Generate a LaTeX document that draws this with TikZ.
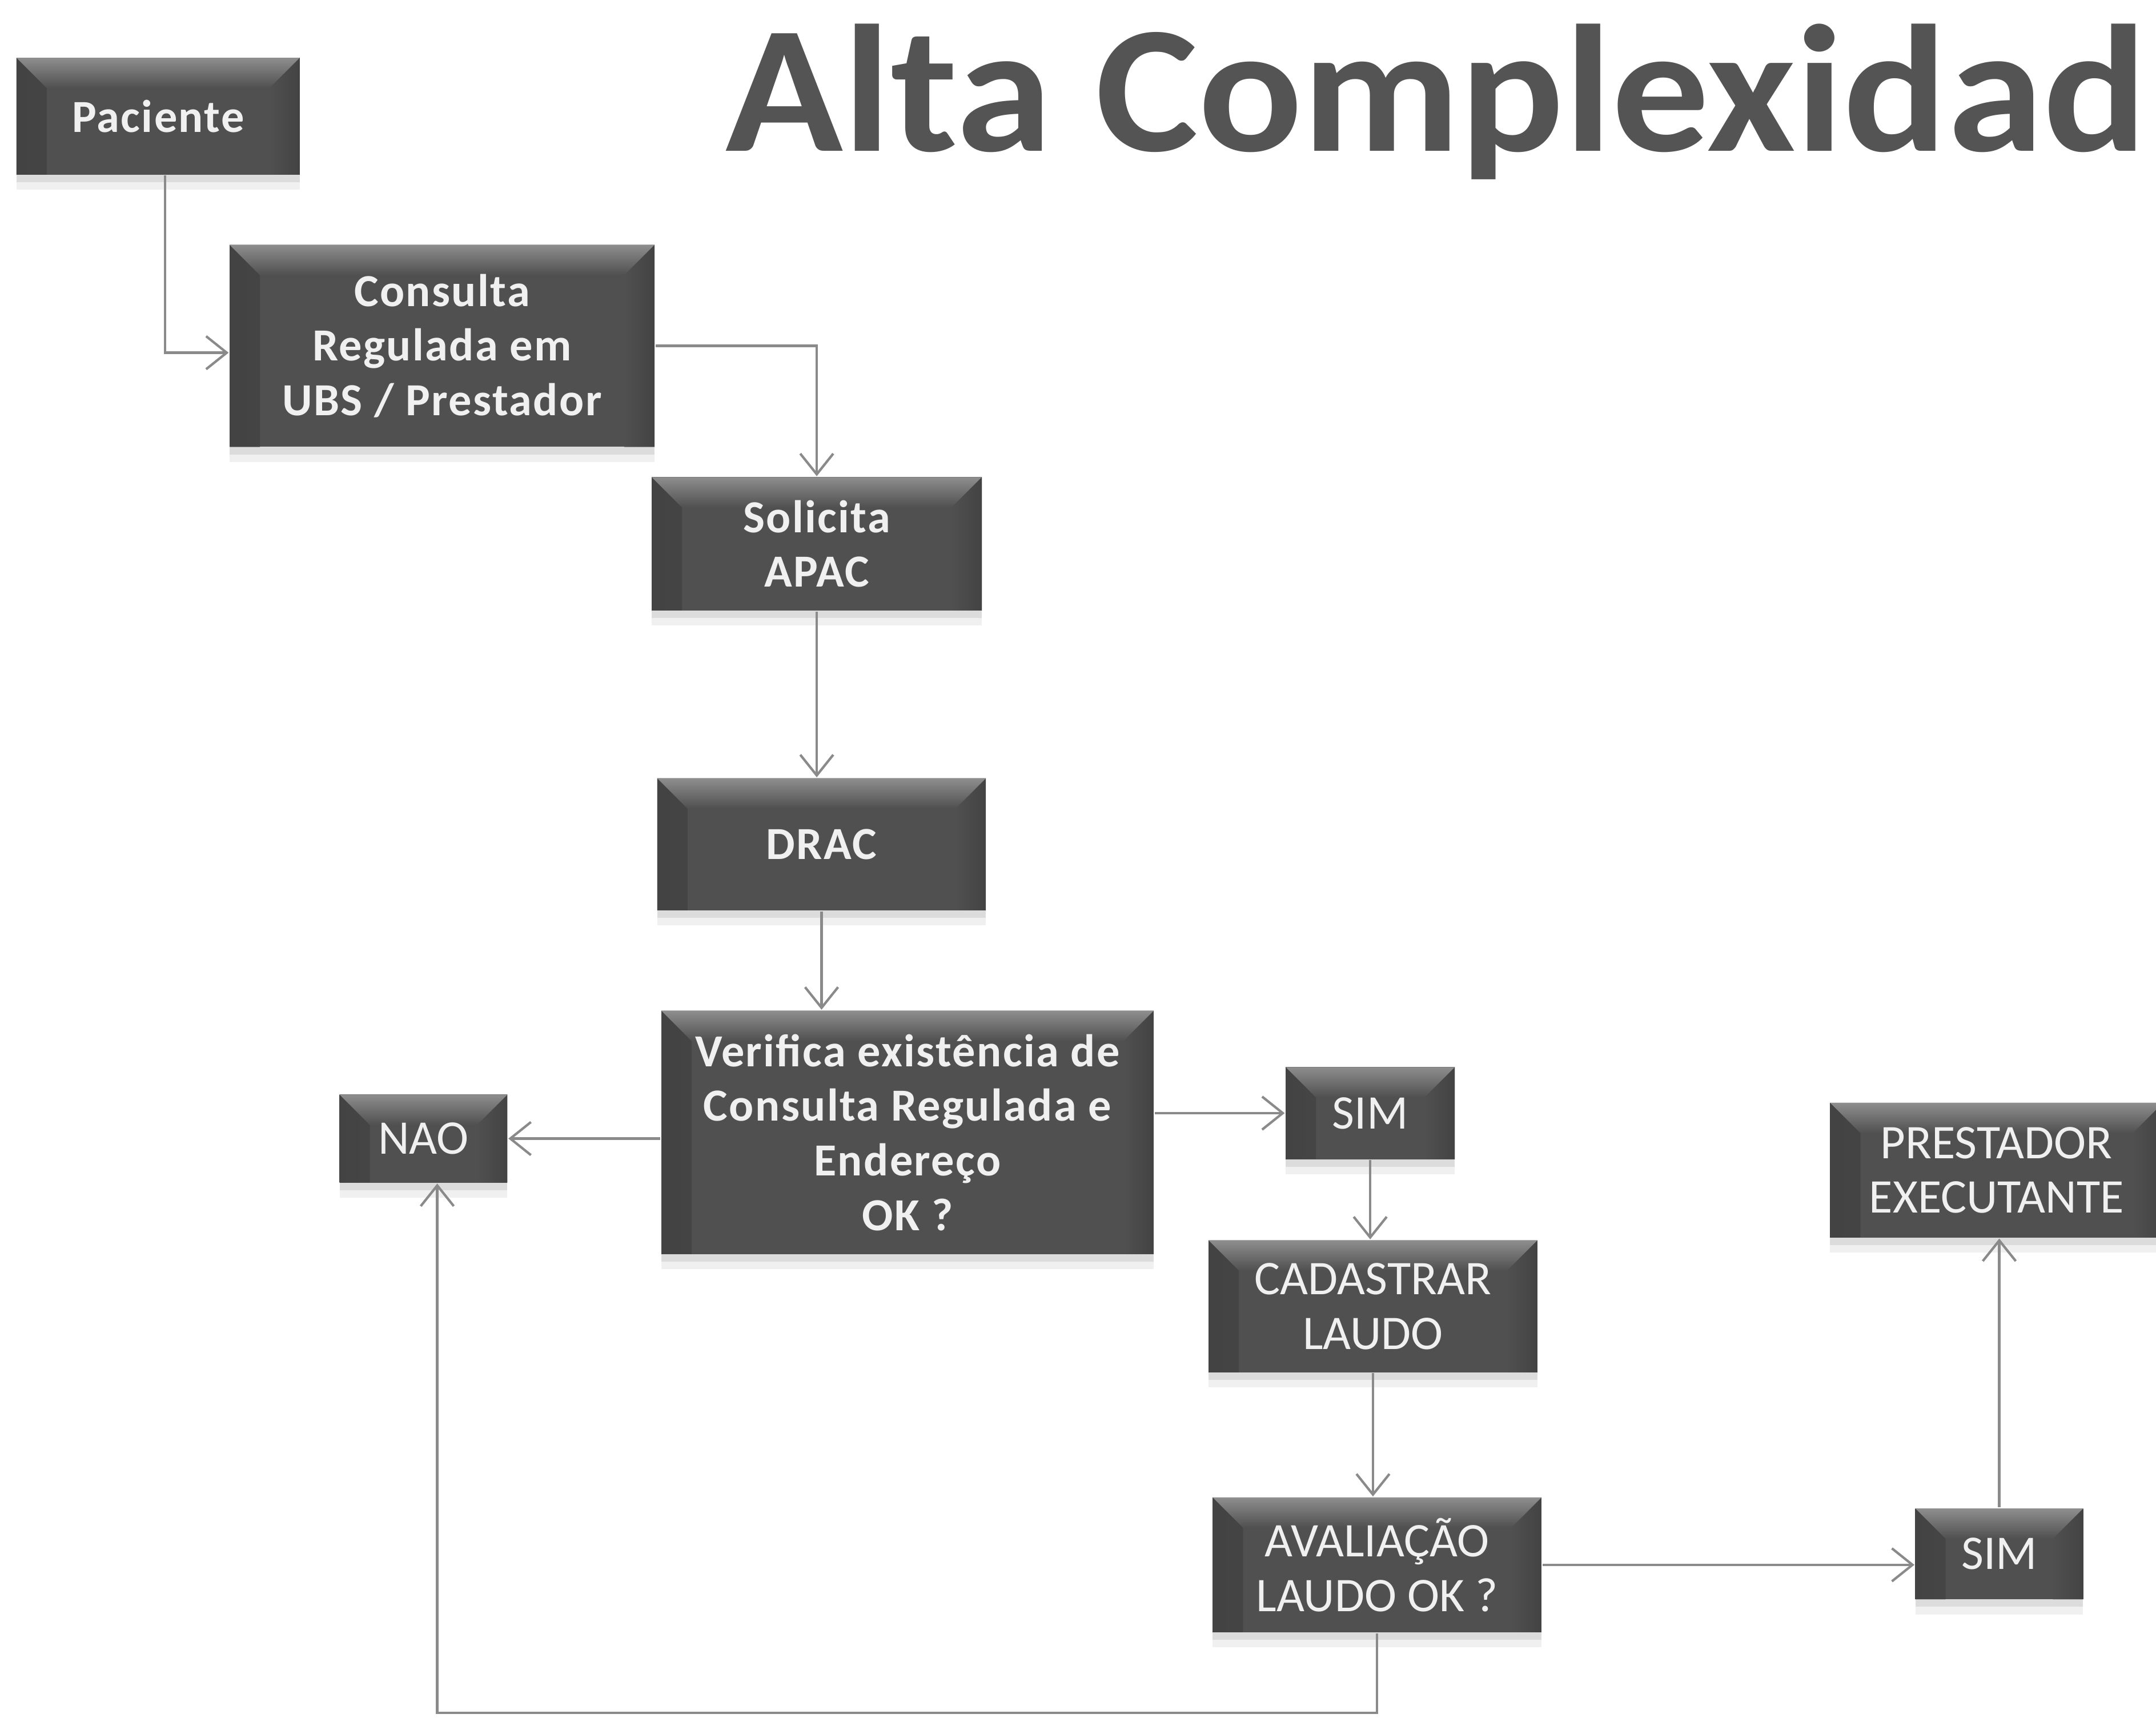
\documentclass[tikz,border=0pt]{standalone}
\usepackage{fontspec}
\setmainfont{Carlito}
\newfontfamily\spaced[LetterSpace=3]{Carlito}
\usetikzlibrary{arrows.meta,shadows}

\definecolor{boxgray}{HTML}{505050}
\definecolor{boxdark}{HTML}{434343}
\definecolor{boxlight}{HTML}{8E8E8E}
\definecolor{linegray}{HTML}{8A8A8A}
\definecolor{titlegray}{HTML}{545454}

\tikzset{
  box/.style={rectangle, fill=boxgray, text=white!94!black, align=center, inner sep=0pt,
    drop shadow={opacity=.12, shadow xshift=0pt, shadow yshift=-1.1mm},
    drop shadow={opacity=.18, shadow xshift=0pt, shadow yshift=-.55mm},
    path picture={
      \fill[left color=boxdark, right color=boxgray] (path picture bounding box.north west)
        -- ([shift={(2.2mm,-2.2mm)}]path picture bounding box.north west)
        -- ([shift={(2.2mm,0mm)}]path picture bounding box.south west)
        -- (path picture bounding box.south west) -- cycle;
      \fill[left color=boxgray, right color=boxdark] (path picture bounding box.north east)
        -- ([shift={(-2.2mm,-2.2mm)}]path picture bounding box.north east)
        -- ([shift={(-2.2mm,0mm)}]path picture bounding box.south east)
        -- (path picture bounding box.south east) -- cycle;
      \fill[top color=boxlight, bottom color=boxgray] (path picture bounding box.north west)
        -- (path picture bounding box.north east)
        -- ([shift={(-2.2mm,-2.2mm)}]path picture bounding box.north east)
        -- ([shift={(2.2mm,-2.2mm)}]path picture bounding box.north west) -- cycle;
    }},
  link/.style={draw=linegray, line width=.5pt},
}

\begin{document}
\begin{tikzpicture}
\useasboundingbox (0,0) rectangle (15.68,-12.49);

\node[anchor=base west, inner sep=0pt, font=\bfseries\fontsize{37.5}{38}\selectfont, text=titlegray] (T) at (5.27,-1.10) {\scalebox{1.07}[1]{Alta Complexidad}};

\begin{scope}[every node/.style={box,font=\spaced\bfseries\fontsize{9.5}{11.3}\selectfont}]
    \node[minimum width=2.06cm,minimum height=.85cm] (A) at (1.15,-0.845) {Paciente};
    \node[minimum width=3.09cm,minimum height=1.47cm] (B) at (3.215,-2.515) {Consulta\\Regulada em\\UBS / Prestador};
    \node[minimum width=2.40cm,minimum height=.97cm] (C) at (5.94,-3.955) {Solicita\\APAC};
    \node[minimum width=2.39cm,minimum height=.96cm] (D) at (5.975,-6.14) {DRAC};
    \node[minimum width=3.58cm,minimum height=1.77cm] (E) at (6.60,-8.235) {Verifica existência de\\Consulta Regulada e\\Endereço\\OK ?};
\end{scope}
\begin{scope}[every node/.style={box,font=\fontsize{10}{11.3}\selectfont}]
    \node[minimum width=1.22cm,minimum height=.64cm] (N) at (3.08,-8.28) {NAO};
    \node[minimum width=1.23cm,minimum height=.67cm] (Y1) at (9.965,-8.095) {SIM};
    \node[minimum width=2.39cm,minimum height=.96cm] (F) at (9.985,-9.50) {CADASTRAR\\LAUDO};
    \node[minimum width=2.39cm,minimum height=.98cm] (G) at (10.015,-11.38) {AVALIAÇÃO\\LAUDO OK ?};
    \node[minimum width=1.22cm,minimum height=.66cm] (Y2) at (14.54,-11.30) {SIM};
    \node[minimum width=2.42cm,minimum height=.98cm] (H) at (14.52,-8.51) {PRESTADOR\\EXECUTANTE};
\end{scope}
\begin{scope}[>={Straight Barb[length=1.5mm,width=2.4mm]},
              every edge/.style={link}]
    \draw [->,link] ([xshift=.5mm]A.south) |- ([yshift=-.5mm]B.west);
    \draw [->,link] (B.east) -| (C.north);
    \path [->] (C.south) edge (C.south |- D.north);
    \path [->] (D.south) edge (D.south |- E.north);
    \path [->] (E.west |- N.east) edge (N.east);
    \path [->] (E.east |- Y1.west) edge (Y1.west);
    \path [->] (Y1.south) edge (Y1.south |- F.north);
    \path [->] (F.south) edge (F.south |- G.north);
    \path [->] (G.east) edge (G.east -| Y2.west);
    \path [->] (Y2.north) edge (Y2.north |- H.south);
    \draw [->,link] (G.south) -- ++(0,-.58) -| ([xshift=1mm]N.south);
\end{scope}
\end{tikzpicture}
\end{document}
